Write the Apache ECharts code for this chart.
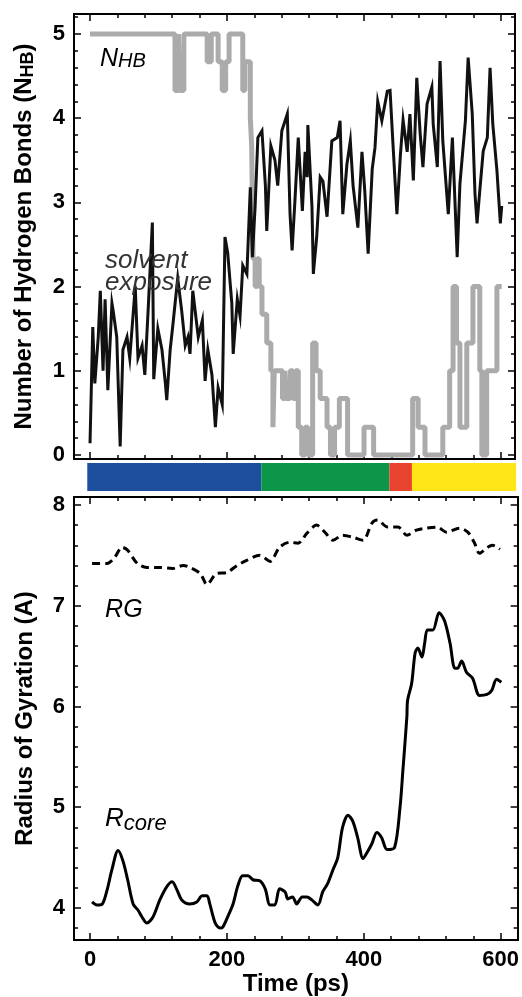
<!DOCTYPE html>
<html><head><meta charset="utf-8">
<script src="https://cdn.jsdelivr.net/npm/echarts@6/dist/echarts.min.js"></script>
<style>html,body{margin:0;padding:0;background:#fff}#c{width:522px;height:997px}</style>
</head><body><div id="c"></div>
<script>
// ---------- DATA ----------
// Top panel: number of hydrogen bonds (grey step line)
const nhbTime  = [0,124,129,131,137,171,177,187,193,198,203,223,226,234,236,238,241,244,247,251,258,264,267,269,281,284,286,292,296,300,304,309,314,318,325,330,336,346,351,357,364,376,400,414,471,479,489,515,525,530,535,540,550,559,569,572,579,594,601];
const nhbValue = [5,4.33,5,4.33,5,4.67,5,4.67,4.33,4.67,5,4.33,4.67,4.0,3.67,2.33,2.0,2.33,2.0,1.67,1.33,1.0,0.33,1.0,0.67,1.0,0.67,1.0,0.67,1.0,0.33,0,0.33,0,1.33,1.0,0.67,0.33,0,0.33,0.67,0,0.33,0,0.67,0.33,0,0.33,1.0,2.0,1.33,0.33,1.33,2.0,1.0,0,1.0,2.0,2.0];
// Top panel: solvent exposure (black line)
const solvTime  = [0,4,7,12,15,19,22,26,32,34,39,44,48,54,58,66,70,76,80,85,91,93,99,105,110,112,117,121,128,134,139,143,146,150,158,164,168,172,178,183,187,193,197,201,207,209,215,219,223,229,234,237,241,245,251,256,258,264,270,274,280,288,292,295,299,304,310,314,317,318,324,326,331,336,340,346,353,361,365,369,375,380,384,391,397,401,406,412,416,420,426,434,438,442,448,453,457,463,467,472,477,482,486,492,499,501,507,511,515,523,529,536,540,548,552,558,562,565,569,574,580,584,588,594,599,601];
const solvValue = [0.14,1.52,0.85,1.40,1.95,1.0,1.85,0.77,1.8,1.7,1.4,0.1,1.25,1.4,1.15,2.0,1.15,1.3,0.95,1.75,2.76,0.9,1.5,1.25,0.85,0.65,1.25,1.55,2.1,1.7,1.3,1.4,1.2,1.95,1.4,1.6,0.88,1.25,0.95,0.33,0.8,0.6,2.59,2.4,1.8,1.2,1.85,1.65,2.25,2.15,3.18,2.35,2.95,3.77,3.85,3.2,2.66,3.67,3.5,3.2,3.85,4.05,2.86,2.43,3.0,3.77,2.9,3.6,3.3,3.92,2.95,2.15,2.6,3.3,3.25,2.83,3.73,3.77,3.97,2.86,3.45,3.73,3.2,2.7,3.6,3.15,2.39,3.4,3.65,4.2,3.97,4.32,4.33,3.73,2.86,3.55,3.98,3.6,4.05,3.26,4.48,3.81,3.42,4.17,4.37,3.93,3.42,4.68,3.73,2.86,3.77,2.35,3.22,3.97,4.72,4.05,3.1,2.75,3.14,3.61,3.77,4.6,3.93,3.38,2.75,2.96];
// Phase bar (time ranges)
const phaseStart = [-4, 250, 437, 470];
const phaseEnd   = [250, 437, 470, 622];
// Bottom panel: radius of gyration (dashed) and core radius (solid)
const rgTime  = [3,25,36,47,55,69,83,102,121,136,146,161,171,185,200,215,229,248,263,277,292,304,317,331,343,355,369,384,399,412,420,435,450,463,477,492,507,521,540,552,562,569,581,588,599];
const rgValue = [7.42,7.42,7.48,7.58,7.55,7.42,7.38,7.38,7.37,7.40,7.38,7.32,7.21,7.32,7.33,7.40,7.45,7.50,7.44,7.58,7.63,7.62,7.72,7.80,7.73,7.65,7.70,7.68,7.65,7.82,7.85,7.78,7.78,7.70,7.75,7.77,7.78,7.73,7.77,7.73,7.62,7.52,7.58,7.60,7.56];
const rcoreTime  = [3,10,18,25,32,41,48,55,63,70,76,83,92,102,112,120,127,134,146,156,164,171,175,183,190,194,201,209,216,223,231,238,248,256,263,270,277,285,289,296,302,310,317,324,333,340,347,355,362,369,377,384,391,399,404,412,419,426,434,445,453,457,463,464,470,475,479,485,489,493,501,510,518,526,533,537,543,550,559,569,580,587,594,601];
const rcoreValue = [4.06,4.03,4.04,4.18,4.38,4.57,4.47,4.28,4.04,3.98,3.91,3.85,3.91,4.08,4.21,4.26,4.18,4.08,4.04,4.06,4.12,4.12,4.04,3.85,3.80,3.81,3.91,4.04,4.22,4.32,4.32,4.28,4.27,4.19,4.03,4.03,4.19,4.16,4.09,4.11,4.04,4.11,4.11,4.08,4.03,4.16,4.24,4.38,4.50,4.80,4.92,4.86,4.70,4.49,4.54,4.64,4.75,4.70,4.58,4.60,5.0,5.35,5.9,6.06,6.23,6.53,6.58,6.49,6.63,6.76,6.76,6.93,6.85,6.63,6.38,6.38,6.45,6.34,6.28,6.11,6.12,6.16,6.27,6.24];
// Tick values
const timeMinorTicks = [0,40,80,120,160,200,240,280,320,360,400,440,480,520,560,600];
const timeMajorTicks = [0,200,400,600];
const nhbMinorTicks = [0,0.2,0.4,0.6,0.8,1,1.2,1.4,1.6,1.8,2,2.2,2.4,2.6,2.8,3,3.2,3.4,3.6,3.8,4,4.2,4.4,4.6,4.8,5,5.2];
const nhbMajorTicks = [0,1,2,3,4,5];
const rgMinorTicks = [3.8,4,4.2,4.4,4.6,4.8,5,5.2,5.4,5.6,5.8,6,6.2,6.4,6.6,6.8,7,7.2,7.4,7.6,7.8,8];
const rgMajorTicks = [4,5,6,7,8];

// ---------- CHART ----------
const FONT = 'Liberation Sans';
const chart = echarts.init(document.getElementById('c'), null, {renderer: 'canvas'});
const pair = (a, b) => a.map((t, i) => [t, b[i]]);

function ax(grid, pos, min, max, ticks, len, labels, extra) {
  const o = {
    type: 'value', gridIndex: grid, position: pos, min: min, max: max, offset: 0,
    axisLine: {show: true, onZero: false, lineStyle: {color: '#000', width: 2}},
    axisTick: {show: true, inside: true, length: len, customValues: ticks, lineStyle: {color: '#000', width: 1.5}},
    axisLabel: labels ? {show: true, customValues: labels, color: '#000', fontFamily: FONT, fontWeight: 'bold', fontSize: 22, margin: 9} : {show: false},
    splitLine: {show: false}
  };
  return Object.assign(o, extra || {});
}

const T0 = [-23.4, 620.4], T2 = [-23.4, 624.8];
const Y0 = [-0.048, 5.238], Y2 = [3.682, 8.079];

const titleStyle = {color: '#000', fontFamily: FONT, fontWeight: 'bold', fontSize: 24};

const option = {
  animation: false,
  backgroundColor: '#fff',
  grid: [
    {left: 74, top: 14, width: 441, height: 445},
    {left: 87, top: 463, width: 429, height: 28},
    {left: 74, top: 497, width: 444, height: 443}
  ],
  xAxis: [
    ax(0, 'bottom', T0[0], T0[1], timeMinorTicks, 4),
    ax(0, 'bottom', T0[0], T0[1], timeMajorTicks, 7),
    ax(0, 'top', T0[0], T0[1], timeMinorTicks, 4),
    ax(0, 'top', T0[0], T0[1], timeMajorTicks, 7),
    {type: 'value', gridIndex: 1, min: -4.4, max: 621.9, show: false},
    ax(2, 'bottom', T2[0], T2[1], timeMinorTicks, 4),
    ax(2, 'bottom', T2[0], T2[1], timeMajorTicks, 7, timeMajorTicks, {
      name: 'Time (ps)', nameLocation: 'middle', nameGap: 32, nameTextStyle: titleStyle
    }),
    ax(2, 'top', T2[0], T2[1], timeMinorTicks, 4),
    ax(2, 'top', T2[0], T2[1], timeMajorTicks, 7)
  ],
  yAxis: [
    ax(0, 'left', Y0[0], Y0[1], nhbMinorTicks, 4),
    ax(0, 'left', Y0[0], Y0[1], nhbMajorTicks, 7, nhbMajorTicks, {
      name: 'Number of Hydrogen Bonds (N{s|HB})', nameLocation: 'middle', nameRotate: 90, nameGap: 37,
      nameTextStyle: Object.assign({}, titleStyle, {rich: {s: {fontFamily: FONT, fontWeight: 'bold', fontSize: 18, padding: [8, 0, 0, 0]}}})
    }),
    ax(0, 'right', Y0[0], Y0[1], nhbMinorTicks, 4),
    ax(0, 'right', Y0[0], Y0[1], nhbMajorTicks, 7),
    {type: 'value', gridIndex: 1, min: 0, max: 1, show: false},
    ax(2, 'left', Y2[0], Y2[1], rgMinorTicks, 4),
    ax(2, 'left', Y2[0], Y2[1], rgMajorTicks, 7, rgMajorTicks, {
      name: 'Radius of Gyration (A)', nameLocation: 'middle', nameRotate: 90, nameGap: 37, nameTextStyle: titleStyle
    }),
    ax(2, 'right', Y2[0], Y2[1], rgMinorTicks, 4),
    ax(2, 'right', Y2[0], Y2[1], rgMajorTicks, 7)
  ],
  series: [
    {
      name: 'N_HB', type: 'line', xAxisIndex: 0, yAxisIndex: 0, step: 'end',
      data: pair(nhbTime, nhbValue), showSymbol: false, symbol: 'none',
      lineStyle: {color: '#ababab', width: 5}, z: 2
    },
    {
      name: 'solvent exposure', type: 'line', xAxisIndex: 0, yAxisIndex: 0,
      data: pair(solvTime, solvValue), showSymbol: false, symbol: 'none',
      lineStyle: {color: '#111', width: 3, join: 'miter'}, z: 3
    },
    {
      name: 'phases', type: 'custom', xAxisIndex: 4, yAxisIndex: 4,
      data: [
        {value: [phaseStart[0], phaseEnd[0]], itemStyle: {color: '#1e4f9e'}},
        {value: [phaseStart[1], phaseEnd[1]], itemStyle: {color: '#0c9649'}},
        {value: [phaseStart[2], phaseEnd[2]], itemStyle: {color: '#e8432f'}},
        {value: [phaseStart[3], phaseEnd[3]], itemStyle: {color: '#ffe617'}}
      ],
      renderItem: function (params, api) {
        const a = api.coord([api.value(0), 0]);
        const b = api.coord([api.value(1), 1]);
        return {type: 'rect', shape: {x: a[0], y: b[1], width: b[0] - a[0], height: a[1] - b[1]}, style: api.style()};
      }
    },
    {
      name: 'RG', type: 'line', xAxisIndex: 5, yAxisIndex: 5, smooth: 0.3,
      data: pair(rgTime, rgValue), showSymbol: false, symbol: 'none',
      lineStyle: {color: '#000', width: 3, type: [8, 5]}
    },
    {
      name: 'Rcore', type: 'line', xAxisIndex: 5, yAxisIndex: 5, smooth: 0.3,
      data: pair(rcoreTime, rcoreValue), showSymbol: false, symbol: 'none',
      lineStyle: {color: '#000', width: 3}
    }
  ]
};
chart.setOption(option);

// ---------- ANNOTATIONS (placed in data coordinates) ----------
function px(xi, yi, p) { return chart.convertToPixel({xAxisIndex: xi, yAxisIndex: yi}, p); }
const it = {fontFamily: FONT, fontStyle: 'italic', fill: '#000'};
const pN = px(0, 0, [14.6, 4.55]);
const pS = px(0, 0, [22, 2.46]);
const pE = px(0, 0, [22, 2.20]);
const pRG = px(5, 5, [22, 7.08]);
const pRc = px(5, 5, [22, 4.75]);
chart.setOption({
  graphic: [
    {type: 'text', x: pN[0], y: pN[1], style: Object.assign({}, it, {
      text: '{a|N}{b|HB}', verticalAlign: 'bottom',
      rich: {a: {fontFamily: FONT, fontStyle: 'italic', fontSize: 25, lineHeight: 26}, b: {fontFamily: FONT, fontStyle: 'italic', fontSize: 20, lineHeight: 20, padding: [6, 0, 0, 0]}}
    }), z: 10},
    {type: 'text', x: pS[0], y: pS[1], style: Object.assign({}, it, {text: 'solvent', fontSize: 26, fill: '#333', verticalAlign: 'alphabetic'}), z: 10},
    {type: 'text', x: pE[0], y: pE[1], style: Object.assign({}, it, {text: 'exposure', fontSize: 26, fill: '#333', verticalAlign: 'alphabetic'}), z: 10},
    {type: 'text', x: pRG[0], y: pRG[1], style: Object.assign({}, it, {text: 'RG', fontSize: 25, verticalAlign: 'alphabetic'}), z: 10},
    {type: 'text', x: pRc[0], y: pRc[1], style: Object.assign({}, it, {
      text: '{a|R}{b|core}', verticalAlign: 'bottom',
      rich: {a: {fontFamily: FONT, fontStyle: 'italic', fontSize: 26, lineHeight: 28}, b: {fontFamily: FONT, fontStyle: 'italic', fontSize: 22, lineHeight: 22, padding: [10, 0, 0, 0]}}
    }), z: 10}
  ]
});
</script>
</body></html>
